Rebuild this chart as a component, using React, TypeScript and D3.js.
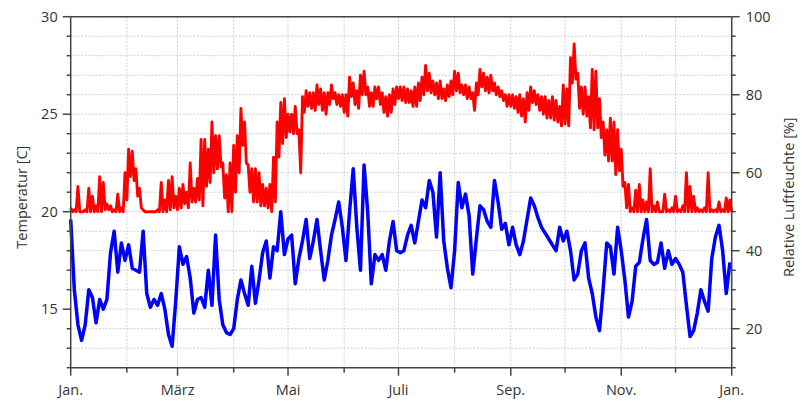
import React from 'react';
import * as d3 from 'd3';

// Temperatur [C]: upper and lower edge of the daily swing, one pair every 2 days from 1 Jan
const tempHigh = [
  20.2, 20.1, 21.3, 20.0, 20.1, 21.2, 20.8, 20.3, 21.8, 21.5,
  20.4, 20.3, 20.1, 20.9, 20.2, 22.0, 23.2, 23.1, 22.2, 21.2,
  20.1, 20.0, 20.0, 20.0, 20.1, 21.5, 20.6, 21.6, 21.8, 20.8,
  21.2, 21.4, 21.0, 22.5, 21.2, 21.7, 23.7, 23.7, 23.2, 24.6,
  23.9, 23.9, 22.5, 21.9, 22.5, 23.4, 23.9, 25.3, 24.6, 22.4,
  22.2, 22.2, 22.0, 21.4, 21.2, 21.4, 22.8, 24.6, 25.6, 25.8,
  25.0, 25.0, 25.4, 24.2, 25.9, 26.2, 26.1, 26.1, 26.5, 26.3,
  26.1, 26.1, 26.5, 26.1, 26.0, 26.0, 26.0, 26.9, 26.6, 26.2,
  27.0, 27.2, 26.4, 26.1, 26.4, 26.4, 26.1, 25.9, 26.0, 26.3,
  26.4, 26.4, 26.4, 26.3, 26.2, 26.4, 26.6, 26.9, 27.5, 27.1,
  26.7, 26.6, 26.7, 26.3, 26.5, 26.7, 27.2, 27.1, 26.5, 26.5,
  26.4, 26.1, 26.6, 27.3, 27.1, 26.9, 27.0, 26.6, 26.4, 26.2,
  26.0, 26.0, 26.0, 25.9, 26.0, 25.8, 26.1, 26.4, 26.2, 26.0,
  25.9, 25.9, 25.7, 25.9, 25.7, 25.4, 26.5, 26.3, 27.9, 28.6,
  27.1, 26.4, 26.4, 25.9, 27.3, 27.2, 25.8, 24.6, 24.2, 24.8,
  24.6, 24.2, 23.2, 21.5, 21.4, 20.2, 21.1, 21.4, 20.6, 20.5,
  22.2, 20.3, 20.5, 20.0, 20.9, 20.1, 20.2, 20.8, 20.1, 20.3,
  22.0, 21.3, 20.8, 20.2, 20.1, 20.2, 22.0, 20.1, 20.1, 20.5,
  20.1, 20.7, 20.6,
];

const tempLow = [
  20.0, 20.0, 20.0, 20.0, 20.0, 20.0, 20.0, 20.0, 20.0, 20.1,
  20.1, 20.0, 20.0, 20.0, 20.0, 20.6, 21.8, 21.6, 20.8, 20.2,
  20.0, 20.0, 20.0, 20.0, 20.0, 20.0, 20.0, 20.1, 20.2, 20.1,
  20.2, 20.4, 20.2, 20.5, 20.5, 20.6, 20.3, 21.3, 21.5, 22.0,
  22.2, 22.3, 20.7, 20.0, 20.0, 21.0, 22.0, 23.4, 22.5, 21.0,
  20.5, 20.5, 20.3, 20.3, 20.2, 20.0, 20.5, 22.8, 23.5, 23.8,
  24.1, 24.0, 24.0, 22.0, 25.1, 25.4, 25.3, 25.2, 25.5, 25.2,
  25.0, 25.5, 25.8, 25.5, 25.4, 25.1, 24.9, 25.9, 25.5, 25.3,
  26.0, 26.0, 25.4, 25.4, 25.8, 25.5, 25.1, 24.9, 25.1, 25.5,
  25.8, 25.7, 25.6, 25.6, 25.4, 25.4, 25.7, 26.0, 26.2, 26.1,
  26.0, 25.8, 25.8, 25.7, 25.9, 26.0, 26.2, 26.1, 26.0, 25.8,
  25.8, 25.2, 26.0, 26.4, 26.2, 26.1, 26.2, 26.0, 25.9, 25.7,
  25.4, 25.4, 25.3, 25.1, 24.9, 24.6, 25.2, 25.6, 25.5, 25.2,
  25.0, 24.8, 24.8, 24.7, 24.6, 24.4, 24.5, 24.4, 26.6, 26.8,
  25.3, 25.0, 24.9, 24.3, 24.2, 24.3, 23.8, 22.9, 22.6, 22.6,
  21.9, 22.1, 21.3, 20.2, 20.0, 20.0, 20.0, 20.0, 20.0, 20.0,
  20.0, 20.0, 20.0, 20.0, 20.0, 20.0, 20.0, 20.0, 20.0, 20.0,
  20.0, 20.0, 20.0, 20.0, 20.0, 20.0, 20.0, 20.0, 20.0, 20.0,
  20.0, 20.0, 20.0,
];

// Relative Luftfeuchte [%], one reading every 2 days from 1 Jan
const humidity = [
  48, 30, 21, 17, 21, 30, 28, 21.5, 27.5, 25,
  27.5, 39.5, 45, 34.5, 42, 37.5, 41.5, 35.5, 35, 34.5,
  45, 29, 25.5, 27.5, 26, 29, 25, 18.5, 15.5, 27,
  41, 36.5, 38.5, 33, 24, 27.5, 28, 25.5, 35, 26,
  44, 27.5, 21, 19, 18.5, 20, 27.5, 32.5, 29, 26,
  36, 26.5, 32.5, 39.5, 42.5, 33, 41, 40, 50, 39,
  43, 44, 31.5, 38, 42.5, 48, 38, 42.5, 48, 40,
  32.5, 37.5, 44, 48, 52.5, 46, 37.5, 50, 61, 46,
  35, 62, 50, 31.5, 39, 37.5, 39, 35, 42.5, 47.5,
  40, 39.5, 40, 44, 46.5, 42, 47.5, 53, 51, 58,
  55, 43.5, 60, 42.5, 35.5, 30.5, 40, 57.5, 51, 54.5,
  49, 34, 43, 51.5, 50.5, 47.5, 46, 58, 52.5, 45.5,
  47, 41.5, 46, 41.5, 39, 42.5, 48, 53.5, 51.5, 48.5,
  46, 44.5, 43, 41.5, 40, 46, 42.5, 45, 40, 32.5,
  34, 40, 42, 33, 29, 23, 19.5, 30, 42, 41,
  34, 46, 40, 32.5, 23, 27, 36, 37, 43, 48,
  37.5, 36.5, 37, 42, 35.5, 40, 36.5, 38, 36.5, 34.5,
  26, 18, 19.5, 24, 30, 27, 24.5, 38, 43.5, 46.5,
  40, 29, 37,
];

const monthLabels = ['Jan.', '', 'März', '', 'Mai', '', 'Juli', '', 'Sep.', '', 'Nov.', '', 'Jan.'];
const tempTicks = [15, 20, 25, 30];
const humidityTicks = [20, 40, 60, 80, 100];

const YEAR = 2017;
const W = 806;
const H = 413;
const left = 70.7;
const right = 731.7;
const top = 16.7;
const bottom = 367.7;
const font = '"Open Sans", "DejaVu Sans", sans-serif';

type Pt = { date: Date; value: number };

const App: React.FC = () => {
  const x = d3.scaleTime()
    .domain([new Date(YEAR, 0, 1), new Date(YEAR + 1, 0, 1)])
    .range([left, right]);
  const yT = d3.scaleLinear().domain([12, 30]).range([bottom, top]);
  const yH = d3.scaleLinear().domain([10, 100]).range([bottom, top]);

  // high on the first day of each pair, low on the second
  const tempPts: Pt[] = tempHigh.flatMap((hi, i) => [
    { date: new Date(YEAR, 0, 1 + 2 * i), value: hi },
    { date: new Date(YEAR, 0, 2 + 2 * i), value: tempLow[i] },
  ]);
  const humPts: Pt[] = humidity.map((v, i) => ({ date: new Date(YEAR, 0, 1 + 2 * i), value: v }));

  const tempLine = d3.line<Pt>().x(d => x(d.date)).y(d => yT(d.value));
  const humLine = d3.line<Pt>().x(d => x(d.date)).y(d => yH(d.value));

  const months = d3.timeMonth.range(new Date(YEAR, 0, 1), new Date(YEAR + 1, 0, 2));
  const minorT = d3.range(12, 31, 1);
  const minorH = d3.range(10, 101, 5);
  const textColor = '#333';
  const axisColor = '#444';
  const gridColor = '#cfcfcf';

  return (
    <svg width={W} height={H} style={{ position: 'absolute', left: 0, top: 0, background: '#fff' }}
      fontFamily={font}>
      {/* grid */}
      <g stroke={gridColor} strokeWidth={1} strokeDasharray="2,1.5">
        {minorT.map(v => (
          <line key={'gh' + v} x1={left} x2={right} y1={yT(v)} y2={yT(v)} />
        ))}
        {months.map((m, i) => (
          <line key={'gv' + i} x1={x(m)} x2={x(m)} y1={top} y2={bottom} />
        ))}
      </g>

      {/* series */}
      <path d={tempLine(tempPts) || ''} fill="none" stroke="#ff0000" strokeWidth={2.9} strokeLinejoin="round" />
      <path d={humLine(humPts) || ''} fill="none" stroke="#0000ff" strokeWidth={3.5} strokeLinejoin="round" />

      {/* frame */}
      <g stroke={axisColor} strokeWidth={1.5} fill="none">
        <line x1={left} x2={right} y1={top} y2={top} />
        <line x1={left} x2={right} y1={bottom} y2={bottom} />
        <line x1={left} x2={left} y1={top} y2={bottom} />
        <line x1={right} x2={right} y1={top} y2={bottom} />
        {minorT.map(v => {
          const major = tempTicks.includes(v);
          return <line key={'tl' + v} x1={left - (major ? 8 : 4)} x2={left} y1={yT(v)} y2={yT(v)} />;
        })}
        {minorH.map(v => {
          const major = humidityTicks.includes(v);
          return <line key={'tr' + v} x1={right} x2={right + (major ? 8 : 4)} y1={yH(v)} y2={yH(v)} />;
        })}
        {months.map((m, i) => (
          <line key={'tb' + i} x1={x(m)} x2={x(m)} y1={bottom} y2={bottom + (monthLabels[i] ? 8 : 5)} />
        ))}
      </g>

      {/* labels */}
      <g fill={textColor} fontSize={14.5}>
        {tempTicks.map(v => (
          <text key={'lt' + v} x={left - 13} y={yT(v)} dy="0.35em" textAnchor="end">{v}</text>
        ))}
        {humidityTicks.map(v => (
          <text key={'lh' + v} x={right + 14} y={yH(v)} dy="0.35em" textAnchor="start">{v}</text>
        ))}
        {months.map((m, i) => monthLabels[i] ? (
          <text key={'lm' + i} x={x(m)} y={bottom + 27} textAnchor="middle">{monthLabels[i]}</text>
        ) : null)}
        <text transform={`translate(27,${(top + bottom) / 2 + 5}) rotate(-90)`} textAnchor="middle">Temperatur [C]</text>
        <text transform={`translate(794,${(top + bottom) / 2 + 5}) rotate(-90)`} textAnchor="middle">Relative Luftfeuchte [%]</text>
      </g>
    </svg>
  );
};

export default App;
